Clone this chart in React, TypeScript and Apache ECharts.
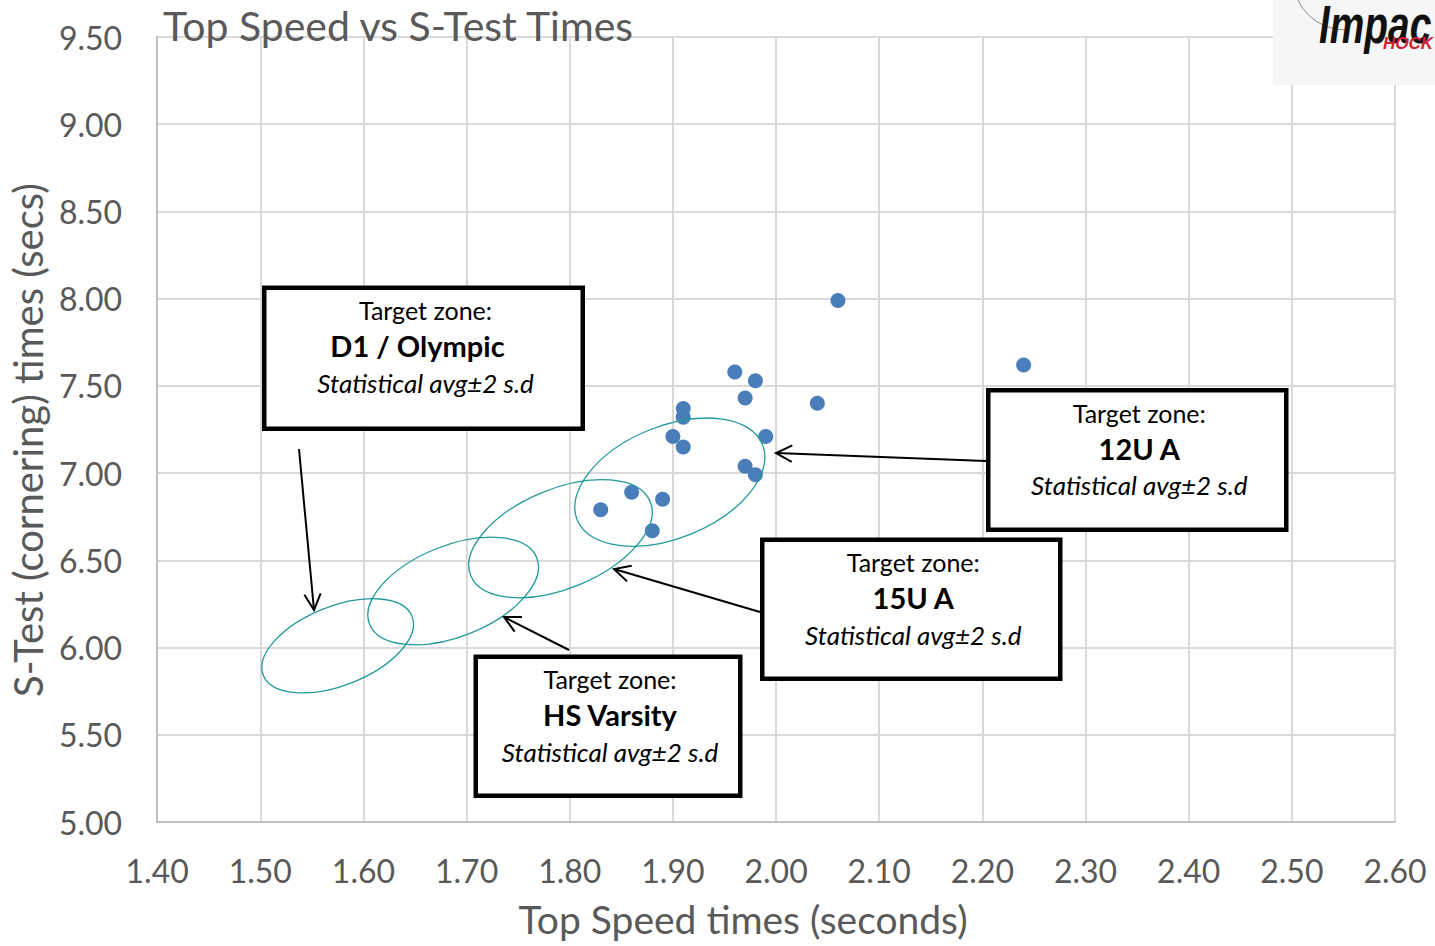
import React, { useEffect, useRef } from "react";
import * as echarts from "echarts";

// ---- Data ----
const topSpeedTimes = [2.06, 2.24, 1.96, 1.98, 1.97, 2.04, 1.91, 1.91, 1.90, 1.99, 1.91, 1.97, 1.98, 1.86, 1.89, 1.83, 1.88];
const sTestTimes = [7.99, 7.62, 7.58, 7.53, 7.43, 7.40, 7.37, 7.32, 7.21, 7.21, 7.15, 7.04, 6.99, 6.89, 6.85, 6.79, 6.67];

// Target zones (ellipse centres in data units)
const zoneNames = ["D1 / Olympic", "HS Varsity", "15U A", "12U A"];
const zoneCenterX = [1.575, 1.687, 1.791, 1.897];
const zoneCenterY = [6.01, 6.324, 6.624, 6.948];

const titleText = "Top Speed vs S-Test Times";
const xAxisTitle = "Top Speed times (seconds)";
const yAxisTitle = "S-Test (cornering) times (secs)";
const boxLine1 = "Target zone:";
const boxLine3 = "Statistical avg\u00B12 s.d";

// ---- Annotation geometry (pixels) ----
const zoneRx = [80, 90, 97, 100];
const zoneRy = [39.5, 45.5, 49.7, 56];
const zoneAngle = [21.6, 21.7, 22.5, 22.1];

// callout boxes: outer left, top, right, bottom
const boxes = [
  { name: "D1 / Olympic", l: 262, t: 285.5, r: 585, b: 431, nameDx: -6, tail: [299, 449], tip: [314, 610] },
  { name: "12U A", l: 986, t: 388, r: 1288.5, b: 532, nameDx: 2, tail: [986, 461], tip: [776, 453] },
  { name: "15U A", l: 760, t: 537.5, r: 1062.5, b: 681, nameDx: 2, tail: [760, 612], tip: [614, 569] },
  { name: "HS Varsity", l: 473.5, t: 654.5, r: 742.5, b: 798, nameDx: 2, tail: [569, 650], tip: [504, 617] },
];

const FONT = "Lato, 'Open Sans', sans-serif";
const GRAY = "#595959";

function arrow(tail: number[], tip: number[]) {
  const dx = tail[0] - tip[0];
  const dy = tail[1] - tip[1];
  const len = Math.hypot(dx, dy);
  const ux = dx / len;
  const uy = dy / len;
  const L = 18;
  const a = (27 * Math.PI) / 180;
  const rot = (s: number) => [
    tip[0] + L * (ux * Math.cos(s * a) - uy * Math.sin(s * a)),
    tip[1] + L * (ux * Math.sin(s * a) + uy * Math.cos(s * a)),
  ];
  return [
    {
      type: "line",
      silent: true,
      z: 12,
      shape: { x1: tail[0], y1: tail[1], x2: tip[0], y2: tip[1] },
      style: { stroke: "#000", lineWidth: 2 },
    },
    {
      type: "polyline",
      silent: true,
      z: 12,
      shape: { points: [rot(1), tip, rot(-1)] },
      style: { stroke: "#000", lineWidth: 2, fill: null },
    },
  ];
}

export default function App() {
  const ref = useRef<HTMLDivElement>(null);

  useEffect(() => {
    if (!ref.current) return;
    const chart = echarts.init(ref.current, null, { renderer: "svg" });
    chart.setOption({
      animation: false,
      backgroundColor: "#ffffff",
      title: {
        text: titleText,
        left: 158,
        top: 0,
        textStyle: { color: GRAY, fontSize: 41, fontWeight: "normal", fontFamily: FONT },
      },
      grid: { left: 152, right: 40, top: 37, bottom: 124, containLabel: false },
      xAxis: {
        type: "value",
        min: 1.4,
        max: 2.6,
        interval: 0.1,
        name: xAxisTitle,
        nameLocation: "middle",
        nameGap: 77,
        nameTextStyle: { color: GRAY, fontSize: 39, fontFamily: FONT, padding: [0, 66, 0, 0] },
        axisLine: { show: true, lineStyle: { color: "#bfbfbf", width: 2 } },
        axisTick: { show: false },
        splitLine: { show: true, lineStyle: { color: "#d9d9d9", width: 2 } },
        axisLabel: {
          formatter: (v: number) => v.toFixed(2),
          margin: 32,
          color: GRAY,
          fontSize: 32,
          fontFamily: FONT,
        },
      },
      yAxis: {
        type: "value",
        min: 5,
        max: 9.5,
        interval: 0.5,
        name: yAxisTitle,
        nameLocation: "middle",
        nameRotate: 90,
        nameGap: 98,
        nameTextStyle: { color: GRAY, fontSize: 40, fontFamily: FONT, padding: [0, 21, 0, 0] },
        axisLine: { show: true, lineStyle: { color: "#bfbfbf", width: 2 } },
        axisTick: { show: false },
        splitLine: { show: true, lineStyle: { color: "#d9d9d9", width: 2 } },
        axisLabel: {
          formatter: (v: number) => v.toFixed(2),
          margin: 35,
          color: GRAY,
          fontSize: 32,
          fontFamily: FONT,
        },
      },
      series: [
        {
          type: "scatter",
          name: "Players",
          data: topSpeedTimes.map((x, i) => [x, sTestTimes[i]]),
          symbol: "circle",
          symbolSize: 15,
          itemStyle: { color: "#4a7ebb", opacity: 1 },
          z: 3,
        },
      ],
    });

    const graphics: any[] = [];
    zoneNames.forEach((_, i) => {
      const c = chart.convertToPixel({ xAxisIndex: 0, yAxisIndex: 0 }, [zoneCenterX[i], zoneCenterY[i]]) as number[];
      graphics.push({
        type: "ellipse",
        silent: true,
        z: 5,
        x: c[0],
        y: c[1],
        rotation: (zoneAngle[i] * Math.PI) / 180,
        shape: { cx: 0, cy: 0, rx: zoneRx[i], ry: zoneRy[i] },
        style: { fill: null, stroke: "#23999a", lineWidth: 1.3 },
      });
    });

    boxes.forEach((b) => {
      graphics.push(...arrow(b.tail, b.tip));
      const w = b.r - b.l;
      const cx = (b.l + b.r) / 2;
      graphics.push({
        type: "rect",
        silent: true,
        z: 10,
        shape: { x: b.l + 2.25, y: b.t + 2.25, width: w - 4.5, height: b.b - b.t - 4.5 },
        style: { fill: "#ffffff", stroke: "#000000", lineWidth: 4.5 },
      });
      graphics.push({
        type: "text",
        silent: true,
        z: 11,
        x: cx + 2,
        y: b.t + 24.5,
        style: { text: boxLine1, fontSize: 25, fontFamily: FONT, fill: "#000", align: "center", verticalAlign: "middle" },
      });
      graphics.push({
        type: "text",
        silent: true,
        z: 11,
        x: cx + b.nameDx,
        y: b.t + 60,
        style: { text: b.name, fontSize: 29, fontWeight: "bold", fontFamily: FONT, fill: "#000", align: "center", verticalAlign: "middle" },
      });
      graphics.push({
        type: "text",
        silent: true,
        z: 11,
        x: cx + 2,
        y: b.t + 97,
        style: { text: boxLine3, fontSize: 26, fontStyle: "italic", fontFamily: FONT, fill: "#000", align: "center", verticalAlign: "middle" },
      });
    });

    // logo
    graphics.push({
      type: "rect",
      silent: true,
      z: 20,
      shape: { x: 1273, y: 0, width: 162, height: 85 },
      style: { fill: "#f6f6f6" },
    });
    graphics.push({
      type: "arc",
      silent: true,
      z: 21,
      shape: { cx: 1345, cy: -22, r: 52, startAngle: Math.PI * 0.5, endAngle: Math.PI },
      style: { stroke: "#8c8c8c", lineWidth: 1, fill: null },
    });
    graphics.push({
      type: "text",
      silent: true,
      z: 22,
      x: 1319,
      y: 24,
      scaleX: 0.72,
      style: {
        text: "Impac",
        fontSize: 54,
        lineHeight: 40,
        fontStyle: "italic",
        fontWeight: "bold",
        fontFamily: "'Liberation Sans', Arial, sans-serif",
        fill: "#111111",
        align: "left",
        verticalAlign: "middle",
      },
    });
    graphics.push({
      type: "text",
      silent: true,
      z: 22,
      x: 1383,
      y: 43,
      style: {
        text: "HOCK",
        fontSize: 17,
        lineHeight: 14,
        fontStyle: "italic",
        fontWeight: "bold",
        fontFamily: "'Liberation Sans', Arial, sans-serif",
        fill: "#d81e34",
        align: "left",
        verticalAlign: "middle",
      },
    });

    chart.setOption({ graphic: graphics });

    return () => chart.dispose();
  }, []);

  return (
    <div
      ref={ref}
      style={{ position: "absolute", left: 0, top: 0, width: 1435, height: 946 }}
    />
  );
}
